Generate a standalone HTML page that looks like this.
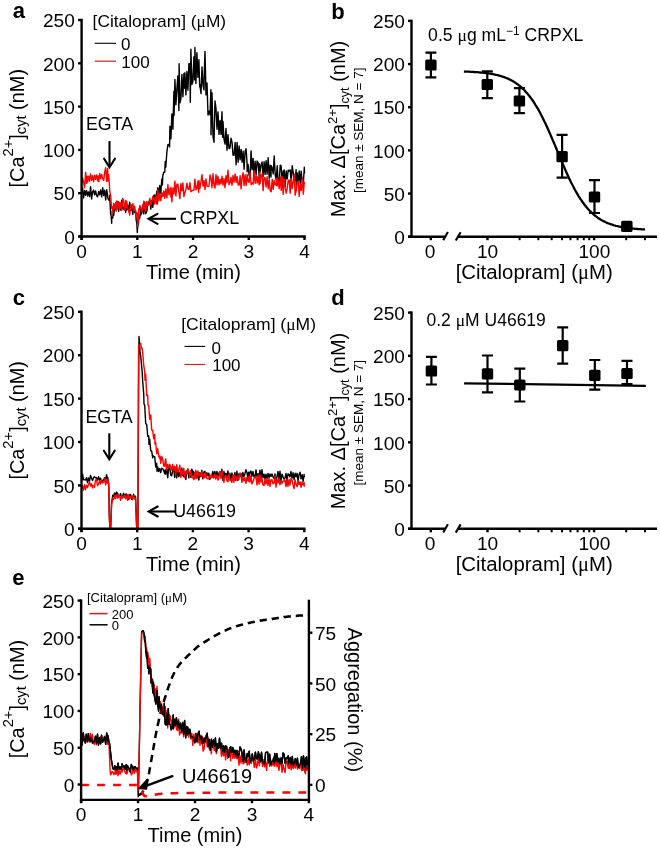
<!DOCTYPE html>
<html><head><meta charset="utf-8"><style>
html,body{margin:0;padding:0;background:#fff;}
svg{display:block;will-change:transform;}
text{font-family:"Liberation Sans",sans-serif;fill:#000;}
</style></head><body>
<svg width="660" height="849" viewBox="0 0 660 849">
<rect width="660" height="849" fill="#fff"/>
<text x="12.7" y="18.4" font-size="22" text-anchor="start" font-weight="bold" >a</text>
<polyline fill="none" stroke="#000" stroke-width="1.4" stroke-linejoin="round"  points="81.6,191.9 82.6,188.0 83.6,198.0 84.6,190.5 85.6,195.2 86.6,190.5 87.6,196.0 88.6,191.9 89.6,196.6 90.6,186.6 91.6,199.0 92.6,191.8 93.6,190.0 94.6,194.8 95.6,190.9 96.6,195.7 97.6,196.8 98.7,191.4 99.7,194.8 100.7,190.0 101.7,196.9 102.7,187.6 103.7,195.5 104.7,190.1 105.7,200.0 106.7,189.6 107.7,195.7 107.8,197.9 108.7,200.1 109.5,198.8 109.7,195.5 110.6,214.1 110.7,210.0 111.7,223.2 111.7,217.6 112.7,218.1 113.4,209.5 113.7,215.4 114.7,206.5 115.7,210.0 116.1,204.0 116.7,208.1 117.7,201.8 118.7,211.2 119.7,203.2 120.7,210.1 121.7,200.2 122.7,208.2 123.7,209.5 124.7,203.5 125.7,212.3 126.2,203.5 126.7,210.1 127.7,204.9 128.7,211.3 129.7,202.3 130.7,210.6 131.7,204.9 132.8,214.5 133.8,206.2 134.5,206.9 134.8,212.7 135.8,213.2 136.2,220.4 136.8,222.8 137.3,232.5 137.8,224.2 138.4,224.1 138.8,218.2 139.8,218.0 140.7,207.9 140.8,215.0 141.8,212.5 142.8,206.8 143.8,213.9 144.8,202.0 145.8,213.7 146.8,211.1 147.8,204.2 148.5,204.8 148.8,201.8 149.8,200.2 150.8,209.1 151.8,200.5 152.8,207.4 153.8,195.4 154.0,203.0 154.8,195.0 155.8,200.4 156.8,191.2 157.4,203.7 157.8,187.7 158.8,195.5 159.8,185.4 160.8,193.4 161.8,179.0 162.4,185.0 162.8,175.5 163.8,172.2 164.8,172.0 165.2,161.4 165.8,167.3 166.9,151.6 167.9,144.7 168.9,144.3 169.6,146.9 169.9,126.1 170.9,138.8 171.9,113.9 172.9,129.3 173.9,91.3 174.1,115.3 174.9,79.4 175.9,104.9 176.9,88.9 177.9,75.9 178.9,110.5 179.1,63.7 179.9,102.9 180.9,98.8 181.9,74.4 182.9,96.8 183.9,73.7 184.7,88.2 184.9,72.7 185.9,94.9 186.9,71.4 187.9,90.2 188.9,63.8 189.9,63.7 190.3,102.3 190.9,49.1 191.9,84.6 192.9,81.2 193.9,56.8 194.7,79.9 194.9,47.5 195.9,83.6 196.9,52.8 197.9,77.2 198.9,59.6 199.7,87.0 199.9,84.4 201.0,93.6 202.0,67.0 203.0,85.7 204.0,89.9 204.2,75.1 205.0,51.4 206.0,94.9 207.0,82.9 208.0,115.1 209.0,111.1 210.0,114.9 210.9,89.8 211.0,134.8 212.0,92.8 213.0,136.7 214.0,142.2 215.0,100.9 216.0,108.6 217.0,129.2 218.0,111.9 219.0,134.4 220.0,120.5 221.0,134.4 222.0,111.8 222.6,137.2 223.0,121.4 224.0,139.2 225.0,144.1 226.0,128.4 227.0,150.3 228.0,134.6 229.0,148.5 230.0,148.0 231.0,138.1 232.0,141.9 233.0,155.0 234.0,155.3 234.8,146.7 235.1,142.4 236.1,164.7 237.1,142.5 238.1,162.2 239.1,146.0 240.1,159.8 241.1,149.4 242.1,162.2 243.1,151.3 244.1,169.3 245.1,151.2 246.1,148.8 247.1,164.1 247.1,171.8 248.1,164.5 249.1,175.4 250.1,177.4 251.1,150.9 252.1,169.7 253.1,158.5 254.1,176.8 255.1,161.1 256.1,174.7 257.1,161.0 258.1,162.7 259.1,175.4 259.3,163.8 260.1,172.0 261.1,164.7 262.1,162.0 263.1,176.6 264.1,161.7 265.1,174.5 266.1,160.6 267.1,174.2 268.2,157.6 269.2,178.2 270.2,165.2 271.0,177.0 271.2,165.8 272.2,168.0 273.2,173.9 274.2,156.0 275.2,174.9 276.2,179.9 277.2,165.8 278.2,182.8 279.2,183.2 280.2,165.1 281.2,166.0 282.2,184.5 283.2,170.9 283.3,181.5 284.2,169.9 285.2,186.4 286.2,171.0 287.2,178.8 288.2,170.1 289.2,171.1 290.2,169.9 291.2,182.1 292.2,165.7 293.2,172.7 294.2,179.4 295.2,180.4 296.1,169.6 296.2,187.8 297.2,172.9 298.2,183.0 299.2,170.9 300.2,183.6 301.2,171.1 302.3,182.5 303.3,184.6 304.3,167.3 304.5,173.5"/>
<polyline fill="none" stroke="#f00" stroke-width="1.4" stroke-linejoin="round"  points="81.6,182.9 82.6,177.6 83.6,182.4 84.6,187.7 85.6,172.1 86.6,183.4 87.2,176.3 87.6,182.0 88.6,176.2 89.6,181.1 90.6,173.9 91.6,180.3 92.6,175.8 93.6,181.7 94.6,175.3 95.6,179.4 96.6,174.9 97.6,180.8 98.3,176.0 98.7,181.6 99.7,173.5 100.7,178.9 101.7,174.5 102.7,178.8 103.7,180.3 104.7,171.9 105.7,167.7 106.7,181.4 107.7,168.4 107.8,180.9 108.7,174.7 109.5,186.2 109.7,191.2 110.7,196.3 111.1,201.7 111.7,208.2 112.7,207.0 112.8,212.7 113.7,203.3 114.7,208.7 115.7,202.7 116.1,211.3 116.7,200.9 117.7,209.1 118.7,201.7 119.7,209.0 120.7,203.0 121.7,210.5 122.7,198.4 123.7,200.9 124.7,210.3 125.7,200.5 126.2,207.9 126.7,201.3 127.7,207.9 128.7,210.9 129.7,215.0 130.7,204.7 131.7,209.1 132.8,203.6 133.8,210.8 134.5,206.1 134.8,210.0 135.8,210.4 136.2,217.2 136.8,212.6 137.3,213.2 137.8,226.6 138.8,208.8 139.0,211.7 139.8,205.5 140.8,208.5 141.8,211.8 142.8,204.5 142.9,208.5 143.8,201.1 144.8,209.3 145.8,211.2 146.8,201.4 147.8,205.5 148.8,204.4 149.8,198.3 150.8,205.0 151.8,202.0 152.8,196.4 153.8,197.8 154.8,204.1 155.8,196.0 156.8,204.0 157.4,192.6 157.8,189.9 158.8,201.0 159.8,194.0 160.8,200.7 161.8,192.7 162.8,196.5 163.8,190.9 164.8,198.2 165.8,189.0 166.9,197.8 167.9,184.5 168.9,194.7 169.9,188.6 170.8,196.7 170.9,187.2 171.9,201.9 172.9,188.0 173.9,194.0 174.9,181.1 175.9,195.9 176.9,184.3 177.9,184.1 178.9,192.3 179.9,198.6 180.9,183.6 181.9,190.9 182.9,182.9 183.9,196.6 184.9,192.7 185.9,189.6 186.9,183.1 187.9,189.2 188.9,189.5 189.9,182.6 190.9,191.7 191.9,191.0 192.9,190.3 193.9,190.1 194.9,179.1 195.9,189.9 196.9,187.7 197.9,181.2 198.6,192.3 198.9,180.5 199.9,188.9 201.0,181.5 202.0,174.7 203.0,186.3 204.0,180.6 205.0,189.4 206.0,179.0 207.0,186.0 208.0,186.5 209.0,186.2 210.0,175.0 211.0,178.5 212.0,187.8 213.0,173.8 214.0,184.9 215.0,188.0 216.0,174.6 217.0,184.9 218.0,176.3 219.0,184.9 220.0,179.5 220.9,183.9 221.0,183.7 222.0,176.3 223.0,185.1 224.0,178.8 225.0,187.7 226.0,175.6 227.0,182.7 228.0,170.1 229.0,184.8 230.0,182.6 231.0,177.4 232.0,185.3 233.0,175.5 234.0,182.2 235.1,174.0 236.1,182.4 237.1,176.5 238.1,184.6 239.1,185.2 240.1,175.7 241.1,188.9 242.1,177.3 243.1,172.7 244.1,185.6 245.1,174.6 246.1,185.5 247.1,174.4 248.1,181.7 249.1,182.3 250.1,172.1 251.1,184.6 252.1,182.8 253.1,184.2 254.1,170.6 255.1,183.3 256.1,175.6 257.1,183.1 258.1,176.4 259.1,184.9 259.9,171.6 260.1,183.5 261.1,175.1 262.1,173.9 263.1,190.6 264.1,177.9 265.1,177.7 266.1,187.0 267.1,176.8 268.2,188.8 269.2,179.2 270.2,190.7 271.2,191.8 272.2,179.5 273.2,189.3 274.2,180.4 275.2,184.5 276.2,185.3 276.6,178.2 277.2,186.0 278.2,180.3 279.2,188.7 280.2,176.8 281.2,190.4 282.2,176.6 283.2,194.4 284.2,179.2 285.2,187.4 286.2,193.2 287.2,188.3 288.2,180.3 289.2,180.3 290.2,193.2 291.2,178.4 292.2,188.6 293.2,181.3 294.2,174.1 295.2,195.2 296.2,190.6 297.2,181.9 298.2,181.2 299.2,196.4 300.2,183.7 301.2,190.5 302.3,179.2 303.3,194.1 304.3,182.5 304.5,184.3"/>
<line x1="81.6" y1="18.8" x2="81.6" y2="239.8" stroke="#000" stroke-width="2.4" stroke-linecap="butt"/>
<line x1="78.1" y1="20.0" x2="81.6" y2="20.0" stroke="#000" stroke-width="2.4" stroke-linecap="butt"/>
<text x="74.8" y="27.2" font-size="19.1" text-anchor="end" font-weight="normal" >250</text>
<line x1="78.1" y1="63.3" x2="81.6" y2="63.3" stroke="#000" stroke-width="2.4" stroke-linecap="butt"/>
<text x="74.8" y="70.5" font-size="19.1" text-anchor="end" font-weight="normal" >200</text>
<line x1="78.1" y1="106.6" x2="81.6" y2="106.6" stroke="#000" stroke-width="2.4" stroke-linecap="butt"/>
<text x="74.8" y="113.8" font-size="19.1" text-anchor="end" font-weight="normal" >150</text>
<line x1="78.1" y1="149.89999999999998" x2="81.6" y2="149.89999999999998" stroke="#000" stroke-width="2.4" stroke-linecap="butt"/>
<text x="74.8" y="157.09999999999997" font-size="19.1" text-anchor="end" font-weight="normal" >100</text>
<line x1="78.1" y1="193.2" x2="81.6" y2="193.2" stroke="#000" stroke-width="2.4" stroke-linecap="butt"/>
<text x="74.8" y="200.39999999999998" font-size="19.1" text-anchor="end" font-weight="normal" >50</text>
<line x1="78.1" y1="236.5" x2="81.6" y2="236.5" stroke="#000" stroke-width="2.4" stroke-linecap="butt"/>
<text x="74.8" y="243.7" font-size="19.1" text-anchor="end" font-weight="normal" >0</text>
<line x1="78.1" y1="236.5" x2="305.7" y2="236.5" stroke="#000" stroke-width="2.4" stroke-linecap="butt"/>
<line x1="81.6" y1="236.5" x2="81.6" y2="240.0" stroke="#000" stroke-width="2.4" stroke-linecap="butt"/>
<text x="81.6" y="257.8" font-size="19.1" text-anchor="middle" font-weight="normal" >0</text>
<line x1="137.325" y1="236.5" x2="137.325" y2="240.0" stroke="#000" stroke-width="2.4" stroke-linecap="butt"/>
<text x="137.325" y="257.8" font-size="19.1" text-anchor="middle" font-weight="normal" >1</text>
<line x1="193.05" y1="236.5" x2="193.05" y2="240.0" stroke="#000" stroke-width="2.4" stroke-linecap="butt"/>
<text x="193.05" y="257.8" font-size="19.1" text-anchor="middle" font-weight="normal" >2</text>
<line x1="248.775" y1="236.5" x2="248.775" y2="240.0" stroke="#000" stroke-width="2.4" stroke-linecap="butt"/>
<text x="248.775" y="257.8" font-size="19.1" text-anchor="middle" font-weight="normal" >3</text>
<line x1="304.5" y1="236.5" x2="304.5" y2="240.0" stroke="#000" stroke-width="2.4" stroke-linecap="butt"/>
<text x="304.5" y="257.8" font-size="19.1" text-anchor="middle" font-weight="normal" >4</text>
<text transform="translate(23.8,187.5) rotate(-90)" font-size="19.9">[Ca<tspan font-size="14.725999999999999" dy="-11.3">2+</tspan><tspan dy="11.3">]</tspan><tspan font-size="14.725999999999999" dy="2.4">cyt</tspan><tspan dy="-2.4"> (nM)</tspan></text>
<text x="193.5" y="279.0" font-size="20" text-anchor="middle" font-weight="normal" >Time (min)</text>
<text x="92.6" y="27.2" font-size="17" text-anchor="start" font-weight="normal" textLength="133.5" lengthAdjust="spacingAndGlyphs">[Citalopram] (<tspan font-family="Liberation Serif">μ</tspan>M)</text>
<line x1="94.7" y1="43.3" x2="116" y2="43.3" stroke="#000" stroke-width="1.1" stroke-linecap="butt"/>
<text x="121" y="50.3" font-size="17" text-anchor="start" font-weight="normal" >0</text>
<line x1="94.7" y1="61.2" x2="116" y2="61.2" stroke="#c0282c" stroke-width="1.2" stroke-linecap="butt"/>
<text x="121.3" y="68.3" font-size="17" text-anchor="start" font-weight="normal" >100</text>
<text x="86.0" y="130.4" font-size="17.8" text-anchor="start" font-weight="normal" >EGTA</text>
<path d="M109.5,141.1 L109.5,166.5" stroke="#000" stroke-width="2.1" fill="none"/>
<path d="M104.1,158.7 L109.5,167.2 L114.9,158.7" stroke="#000" stroke-width="2.1" fill="none" stroke-linejoin="miter" stroke-linecap="round"/>
<path d="M176,218.8 L149,218.8" stroke="#000" stroke-width="2.1" fill="none"/>
<path d="M157.5,213.8 L148.5,218.8 L157.5,223.8" stroke="#000" stroke-width="2.1" fill="none" stroke-linecap="round"/>
<text x="179.8" y="223.8" font-size="17.8" text-anchor="start" font-weight="normal" >CRPXL</text>
<text x="331.3" y="18.900000000000002" font-size="22" text-anchor="start" font-weight="bold" >b</text>
<line x1="411.5" y1="19.7" x2="411.5" y2="237.89999999999998" stroke="#000" stroke-width="2.4" stroke-linecap="butt"/>
<line x1="408.0" y1="20.9" x2="411.5" y2="20.9" stroke="#000" stroke-width="2.4" stroke-linecap="butt"/>
<text x="404.9" y="28.099999999999998" font-size="19.1" text-anchor="end" font-weight="normal" >250</text>
<line x1="408.0" y1="64.06" x2="411.5" y2="64.06" stroke="#000" stroke-width="2.4" stroke-linecap="butt"/>
<text x="404.9" y="71.26" font-size="19.1" text-anchor="end" font-weight="normal" >200</text>
<line x1="408.0" y1="107.22" x2="411.5" y2="107.22" stroke="#000" stroke-width="2.4" stroke-linecap="butt"/>
<text x="404.9" y="114.42" font-size="19.1" text-anchor="end" font-weight="normal" >150</text>
<line x1="408.0" y1="150.38" x2="411.5" y2="150.38" stroke="#000" stroke-width="2.4" stroke-linecap="butt"/>
<text x="404.9" y="157.57999999999998" font-size="19.1" text-anchor="end" font-weight="normal" >100</text>
<line x1="408.0" y1="193.54" x2="411.5" y2="193.54" stroke="#000" stroke-width="2.4" stroke-linecap="butt"/>
<text x="404.9" y="200.73999999999998" font-size="19.1" text-anchor="end" font-weight="normal" >50</text>
<line x1="408.0" y1="236.7" x2="411.5" y2="236.7" stroke="#000" stroke-width="2.4" stroke-linecap="butt"/>
<text x="404.9" y="243.89999999999998" font-size="19.1" text-anchor="end" font-weight="normal" >0</text>
<line x1="408.0" y1="236.7" x2="445" y2="236.7" stroke="#000" stroke-width="2.4" stroke-linecap="butt"/>
<line x1="458" y1="236.7" x2="657" y2="236.7" stroke="#000" stroke-width="2.4" stroke-linecap="butt"/>
<line x1="443.2" y1="240.29999999999998" x2="447.9" y2="232.1" stroke="#000" stroke-width="2.1" stroke-linecap="butt"/>
<line x1="455.8" y1="240.5" x2="460.6" y2="232.29999999999998" stroke="#000" stroke-width="2.1" stroke-linecap="butt"/>
<line x1="430.8" y1="236.7" x2="430.8" y2="240.2" stroke="#000" stroke-width="2.4" stroke-linecap="butt"/>
<line x1="487.5" y1="236.7" x2="487.5" y2="240.2" stroke="#000" stroke-width="2.4" stroke-linecap="butt"/>
<line x1="519.5897975377804" y1="236.7" x2="519.5897975377804" y2="240.2" stroke="#000" stroke-width="2.0" stroke-linecap="butt"/>
<line x1="538.361125753116" y1="236.7" x2="538.361125753116" y2="240.2" stroke="#000" stroke-width="2.0" stroke-linecap="butt"/>
<line x1="551.6795950755608" y1="236.7" x2="551.6795950755608" y2="240.2" stroke="#000" stroke-width="2.0" stroke-linecap="butt"/>
<line x1="562.0102024622196" y1="236.7" x2="562.0102024622196" y2="240.2" stroke="#000" stroke-width="2.0" stroke-linecap="butt"/>
<line x1="570.4509232908964" y1="236.7" x2="570.4509232908964" y2="240.2" stroke="#000" stroke-width="2.0" stroke-linecap="butt"/>
<line x1="577.5874510655198" y1="236.7" x2="577.5874510655198" y2="240.2" stroke="#000" stroke-width="2.0" stroke-linecap="butt"/>
<line x1="583.7693926133412" y1="236.7" x2="583.7693926133412" y2="240.2" stroke="#000" stroke-width="2.0" stroke-linecap="butt"/>
<line x1="589.222251506232" y1="236.7" x2="589.222251506232" y2="240.2" stroke="#000" stroke-width="2.0" stroke-linecap="butt"/>
<line x1="594.1" y1="236.7" x2="594.1" y2="240.2" stroke="#000" stroke-width="2.4" stroke-linecap="butt"/>
<line x1="626.1897975377804" y1="236.7" x2="626.1897975377804" y2="240.2" stroke="#000" stroke-width="2.0" stroke-linecap="butt"/>
<line x1="644.961125753116" y1="236.7" x2="644.961125753116" y2="240.2" stroke="#000" stroke-width="2.0" stroke-linecap="butt"/>
<text x="430.1" y="258.2" font-size="19.1" text-anchor="middle" font-weight="normal" >0</text>
<text x="487.5" y="258.2" font-size="19.1" text-anchor="middle" font-weight="normal" >10</text>
<text x="594.4" y="258.2" font-size="19.1" text-anchor="middle" font-weight="normal" >100</text>
<text x="534.2" y="279.3" font-size="20" text-anchor="middle" font-weight="normal" textLength="157" lengthAdjust="spacingAndGlyphs">[Citalopram] (<tspan font-family="Liberation Serif">μ</tspan>M)</text>
<polyline fill="none" stroke="#000" stroke-width="2.3" points="463.9,71.5 464.8,71.6 465.7,71.6 466.6,71.6 467.5,71.7 468.4,71.7 469.3,71.7 470.2,71.8 471.1,71.8 472.0,71.9 473.0,71.9 473.9,72.0 474.8,72.1 475.7,72.1 476.6,72.2 477.5,72.2 478.4,72.3 479.3,72.4 480.2,72.5 481.1,72.6 482.1,72.6 483.0,72.7 483.9,72.8 484.8,72.9 485.7,73.1 486.6,73.2 487.5,73.3 488.4,73.4 489.3,73.6 490.2,73.7 491.2,73.9 492.1,74.0 493.0,74.2 493.9,74.4 494.8,74.6 495.7,74.8 496.6,75.0 497.5,75.2 498.4,75.4 499.3,75.7 500.3,75.9 501.2,76.2 502.1,76.5 503.0,76.8 503.9,77.1 504.8,77.4 505.7,77.8 506.6,78.1 507.5,78.5 508.4,78.9 509.4,79.4 510.3,79.8 511.2,80.3 512.1,80.8 513.0,81.3 513.9,81.8 514.8,82.4 515.7,83.0 516.6,83.6 517.5,84.3 518.5,85.0 519.4,85.7 520.3,86.4 521.2,87.2 522.1,88.0 523.0,88.9 523.9,89.8 524.8,90.7 525.7,91.7 526.6,92.7 527.6,93.8 528.5,94.9 529.4,96.0 530.3,97.2 531.2,98.4 532.1,99.7 533.0,101.0 533.9,102.4 534.8,103.8 535.7,105.3 536.7,106.8 537.6,108.3 538.5,109.9 539.4,111.5 540.3,113.2 541.2,115.0 542.1,116.7 543.0,118.6 543.9,120.4 544.8,122.3 545.8,124.2 546.7,126.2 547.6,128.2 548.5,130.2 549.4,132.3 550.3,134.4 551.2,136.5 552.1,138.6 553.0,140.8 554.0,143.0 554.9,145.1 555.8,147.3 556.7,149.5 557.6,151.7 558.5,153.9 559.4,156.1 560.3,158.3 561.2,160.4 562.1,162.6 563.1,164.7 564.0,166.8 564.9,168.9 565.8,171.0 566.7,173.0 567.6,175.0 568.5,177.0 569.4,178.9 570.3,180.8 571.2,182.7 572.2,184.5 573.1,186.2 574.0,188.0 574.9,189.7 575.8,191.3 576.7,192.9 577.6,194.4 578.5,196.0 579.4,197.4 580.3,198.8 581.3,200.2 582.2,201.5 583.1,202.8 584.0,204.0 584.9,205.2 585.8,206.3 586.7,207.4 587.6,208.5 588.5,209.5 589.4,210.5 590.4,211.4 591.3,212.3 592.2,213.1 593.1,214.0 594.0,214.8 594.9,215.5 595.8,216.2 596.7,216.9 597.6,217.6 598.5,218.2 599.5,218.8 600.4,219.4 601.3,219.9 602.2,220.4 603.1,220.9 604.0,221.4 604.9,221.8 605.8,222.3 606.7,222.7 607.6,223.1 608.6,223.4 609.5,223.8 610.4,224.1 611.3,224.4 612.2,224.7 613.1,225.0 614.0,225.3 614.9,225.5 615.8,225.8 616.7,226.0 617.7,226.2 618.6,226.4 619.5,226.6 620.4,226.8 621.3,227.0 622.2,227.2 623.1,227.3 624.0,227.5 624.9,227.6 625.8,227.8 626.8,227.9 627.7,228.0 628.6,228.1 629.5,228.2 630.4,228.4 631.3,228.5 632.2,228.5 633.1,228.6 634.0,228.7 635.0,228.8 635.9,228.9 636.8,228.9 637.7,229.0 638.6,229.1 639.5,229.1 640.4,229.2 641.3,229.3 642.2,229.3 643.1,229.4 644.1,229.4 645.0,229.4"/>
<path d="M430.9,52.7 L430.9,77.3 M425.4,52.7 L436.4,52.7 M425.4,77.3 L436.4,77.3" stroke="#000" stroke-width="2.2" fill="none"/>
<rect x="425.2" y="59.4" width="11.4" height="11.2" rx="1.5" fill="#000"/>
<path d="M487.3,71.3 L487.3,98.2 M481.8,71.3 L492.8,71.3 M481.8,98.2 L492.8,98.2" stroke="#000" stroke-width="2.2" fill="none"/>
<rect x="481.6" y="78.9" width="11.4" height="11.2" rx="1.5" fill="#000"/>
<path d="M519.4,88.2 L519.4,113.1 M513.9,88.2 L524.9,88.2 M513.9,113.1 L524.9,113.1" stroke="#000" stroke-width="2.2" fill="none"/>
<rect x="513.7" y="95.4" width="11.4" height="11.2" rx="1.5" fill="#000"/>
<path d="M562.1,134.8 L562.1,177.7 M556.6,134.8 L567.6,134.8 M556.6,177.7 L567.6,177.7" stroke="#000" stroke-width="2.2" fill="none"/>
<rect x="556.4" y="151.1" width="11.4" height="11.2" rx="1.5" fill="#000"/>
<path d="M594.5,180.2 L594.5,213 M589.0,180.2 L600.0,180.2 M589.0,213 L600.0,213" stroke="#000" stroke-width="2.2" fill="none"/>
<rect x="588.8" y="191.4" width="11.4" height="11.2" rx="1.5" fill="#000"/>
<path d="M626.8,226.4 L626.8,226.4 M621.3,226.4 L632.3,226.4 M621.3,226.4 L632.3,226.4" stroke="#000" stroke-width="2.2" fill="none"/>
<rect x="621.1" y="220.8" width="11.4" height="11.2" rx="1.5" fill="#000"/>
<text x="428.1" y="41.3" font-size="17.6">0.5 <tspan font-family="Liberation Serif">μ</tspan>g mL<tspan font-size="12" dy="-6.5">−1</tspan><tspan dy="6.5"> CRPXL</tspan></text>
<text transform="translate(345.0,217.3) rotate(-90)" font-size="20">Max. Δ[Ca<tspan font-size="13" dy="-7.6">2+</tspan><tspan dy="7.6">]</tspan><tspan font-size="12.6" dy="4.2">cyt</tspan><tspan dy="-4.2"> (nM)</tspan></text>
<text transform="translate(362.7,193.1) rotate(-90)" font-size="13.5">[mean ± SEM, N = 7]</text>
<text x="12.7" y="304.8" font-size="22" text-anchor="start" font-weight="bold" >c</text>
<polyline fill="none" stroke="#000" stroke-width="1.4" stroke-linejoin="round"  points="81.5,481.4 82.5,474.0 83.5,479.5 84.5,479.9 85.5,480.0 86.5,477.7 87.5,482.7 88.5,478.0 89.5,481.3 90.5,475.4 91.5,478.2 92.5,480.6 92.6,480.5 93.5,477.5 94.5,476.8 95.5,477.9 96.5,477.7 97.5,480.2 98.5,476.7 99.5,480.0 100.5,478.1 101.6,482.1 102.6,480.3 103.6,480.2 104.6,477.6 105.6,480.1 106.6,474.7 107.6,479.6 107.7,477.4 108.6,483.3 108.8,485.7 109.3,515.6 109.6,522.4 109.9,526.8 110.6,527.0 110.7,527.3 111.6,502.2 111.6,503.1 112.6,496.3 112.7,495.3 113.6,496.2 114.6,493.0 115.6,495.6 116.6,491.9 117.6,494.7 117.7,493.4 118.6,496.9 119.6,496.0 120.6,493.6 121.6,497.1 122.6,495.9 123.6,493.2 124.6,497.1 125.6,494.2 126.1,496.8 126.6,494.0 127.6,496.9 128.6,499.5 129.6,494.4 130.6,494.7 131.6,499.3 132.6,496.9 133.6,494.2 134.6,498.3 135.5,496.2 135.6,497.9 136.4,519.9 136.6,525.7 136.9,528.5 137.6,527.7 137.9,528.1 138.4,424.4 138.6,380.2 139.0,336.5 139.7,344.6 140.0,352.2 140.7,355.9 141.7,366.8 142.0,369.2 142.7,381.4 143.7,393.8 144.0,403.9 144.7,405.2 145.7,423.4 146.0,424.0 146.7,424.3 147.7,436.2 148.7,435.7 149.0,444.4 149.7,439.3 150.7,450.6 151.7,451.2 152.7,457.8 153.0,455.6 153.7,456.5 154.7,456.7 155.7,467.0 156.7,463.2 157.0,471.3 157.7,467.0 158.7,471.5 159.7,468.4 160.7,472.6 161.7,468.2 162.7,468.6 163.7,470.7 164.7,473.7 165.1,469.9 165.7,474.1 166.7,466.7 167.7,477.7 168.7,467.8 169.7,467.1 170.7,474.9 171.7,475.7 172.7,470.8 173.7,467.4 174.7,477.4 175.7,469.6 176.7,477.9 177.7,470.0 178.8,476.7 179.8,472.5 180.8,476.4 181.8,468.0 182.8,475.3 183.8,476.8 184.8,472.5 185.8,479.5 186.8,471.0 187.8,469.4 188.8,477.8 189.8,472.5 190.8,477.2 191.8,469.2 192.8,471.4 192.9,475.9 193.8,472.0 194.8,476.4 195.8,471.4 196.8,477.6 197.8,472.0 198.8,480.0 199.8,472.6 200.8,476.7 201.8,470.3 202.8,478.8 203.8,472.0 204.8,471.2 205.8,475.4 206.8,472.6 207.8,475.7 208.8,473.1 209.8,479.4 210.8,476.7 211.8,475.8 212.8,471.5 213.8,476.8 214.8,471.4 215.8,476.4 216.9,471.4 217.9,476.6 218.9,473.2 219.9,471.5 220.9,477.3 221.9,469.3 222.9,480.4 223.9,471.5 224.9,476.9 225.9,473.3 226.9,477.9 227.9,470.9 228.9,478.4 229.9,473.3 230.9,479.9 231.9,473.0 232.9,476.1 233.9,477.8 234.9,472.4 235.9,480.5 236.9,471.2 237.9,480.5 238.9,473.8 239.9,476.8 240.9,473.4 241.9,477.8 242.9,472.4 243.9,476.9 244.9,473.9 245.9,469.8 246.9,472.3 247.9,478.7 248.6,472.3 248.9,478.4 249.9,472.2 250.9,471.0 251.9,476.4 252.9,471.4 253.9,476.5 254.9,477.7 256.0,469.9 257.0,476.8 258.0,473.6 259.0,476.8 260.0,470.1 261.0,478.1 262.0,469.7 263.0,477.9 264.0,474.2 265.0,479.1 266.0,474.1 267.0,478.4 268.0,473.4 269.0,477.7 270.0,473.9 271.0,476.4 272.0,474.0 273.0,476.8 274.0,478.5 275.0,473.9 276.0,481.1 277.0,476.8 278.0,471.4 279.0,479.3 280.0,471.3 281.0,481.1 282.0,474.1 283.0,476.8 284.0,479.2 285.0,477.9 286.0,473.4 287.0,481.1 288.0,473.9 289.0,474.3 290.0,476.9 291.0,471.5 292.0,478.2 293.0,472.8 294.1,479.6 295.1,473.1 296.1,476.9 297.1,473.3 298.1,481.2 299.1,474.3 300.1,472.2 301.1,478.8 302.1,474.7 303.1,481.5 304.1,474.4 304.3,477.2"/>
<polyline fill="none" stroke="#f00" stroke-width="1.4" stroke-linejoin="round"  points="81.5,488.9 82.5,485.9 83.5,490.2 84.5,484.6 85.5,489.7 86.5,485.3 87.5,487.5 88.5,484.6 89.5,481.8 90.5,486.1 91.5,483.7 92.5,487.9 92.6,485.7 93.5,485.9 94.5,487.3 95.5,479.9 96.5,479.6 97.5,485.7 98.5,484.1 99.5,480.4 100.5,484.0 101.6,480.2 102.6,483.0 103.6,482.4 104.6,478.1 105.6,485.0 106.6,480.4 107.6,483.3 107.7,479.1 108.6,483.3 108.8,485.6 109.3,515.6 109.6,522.1 109.9,528.3 110.6,528.1 110.7,527.6 111.6,504.8 111.6,504.8 112.6,498.3 112.7,498.6 113.6,499.6 114.6,495.3 115.6,498.7 116.6,495.2 117.6,494.8 117.7,498.2 118.6,495.7 119.6,496.0 120.6,500.3 121.6,495.6 122.6,498.2 123.6,495.9 124.6,495.3 125.6,498.7 126.1,496.9 126.6,495.8 127.6,500.3 128.6,495.0 129.6,498.9 130.6,496.9 131.6,495.9 132.6,499.6 133.6,495.8 134.6,499.1 135.5,498.3 135.6,499.4 136.4,519.8 136.6,526.2 136.9,528.5 137.6,529.2 137.9,528.3 138.2,442.1 138.6,346.2 138.6,346.9 139.7,344.5 140.7,343.4 141.0,345.9 141.7,348.3 142.0,348.0 142.7,352.7 143.7,364.9 144.7,371.4 145.0,380.2 145.7,374.3 146.7,395.6 147.7,395.1 148.0,405.1 148.7,405.4 149.7,419.2 150.7,415.0 151.0,418.9 151.7,430.0 152.7,430.2 153.7,438.9 154.7,434.4 155.0,444.0 155.7,442.5 156.7,453.7 157.7,448.6 158.7,456.0 159.7,458.5 160.0,456.0 160.7,463.3 161.7,456.6 162.7,459.1 163.7,466.1 164.7,466.2 165.1,461.0 165.7,458.9 166.7,470.1 167.7,464.4 168.7,468.1 169.7,464.3 170.7,466.6 171.7,470.1 172.7,464.4 173.7,470.7 174.7,466.1 175.1,467.5 175.7,475.7 176.7,464.7 177.7,472.1 178.8,469.7 179.8,465.2 180.8,477.4 181.8,470.3 182.8,474.6 183.8,468.2 184.8,477.9 185.8,471.2 186.8,474.1 187.8,468.7 188.8,471.4 189.8,476.3 190.8,470.8 191.8,477.6 192.8,477.0 193.8,479.7 194.8,472.4 195.1,478.6 195.8,470.3 196.8,478.5 197.8,470.9 198.8,475.8 199.8,473.7 200.8,476.1 201.8,471.8 202.8,476.8 203.8,474.1 204.8,477.9 205.8,472.5 206.8,478.5 207.8,478.8 208.8,478.8 209.8,474.5 210.8,477.9 211.8,475.1 212.8,477.5 213.8,478.0 214.8,474.1 215.8,479.1 216.9,475.1 217.9,480.1 218.9,478.0 219.9,471.4 220.9,478.5 221.9,471.5 222.9,475.1 223.9,482.4 224.9,476.4 225.9,475.4 226.9,480.7 227.9,481.9 228.9,474.2 229.9,480.4 230.9,479.9 231.9,482.5 232.9,475.0 233.9,482.2 234.9,475.3 235.9,476.9 236.9,479.6 237.9,475.6 238.9,479.6 239.9,473.0 240.9,473.8 241.9,482.3 242.9,477.6 243.9,480.8 244.9,477.5 245.9,483.3 246.9,477.4 247.9,480.8 248.6,481.2 248.9,476.1 249.9,482.1 250.9,475.8 251.9,483.9 252.9,481.9 253.9,478.7 254.9,476.7 256.0,477.2 257.0,485.0 258.0,475.1 259.0,484.1 260.0,474.7 261.0,482.2 262.0,478.5 263.0,484.9 264.0,485.4 265.0,479.3 266.0,484.0 267.0,478.7 268.0,485.3 269.0,478.1 270.0,486.5 271.0,479.9 272.0,479.7 273.0,483.9 274.0,483.2 275.0,476.0 276.0,487.1 277.0,479.3 278.0,483.1 279.0,477.9 280.0,484.8 281.0,481.0 282.0,483.3 283.0,481.0 284.0,481.2 285.0,480.1 286.0,486.7 287.0,478.9 288.0,486.3 289.0,479.5 290.0,485.0 291.0,478.5 292.0,480.1 293.0,484.5 294.1,488.5 295.1,479.9 296.1,484.1 297.1,486.8 298.1,480.5 299.1,484.5 300.1,482.0 301.1,487.4 302.1,482.2 303.1,484.9 304.1,482.5 304.3,486.7"/>
<line x1="81.5" y1="310.6" x2="81.5" y2="532.0" stroke="#000" stroke-width="2.4" stroke-linecap="butt"/>
<line x1="78.0" y1="311.8" x2="81.5" y2="311.8" stroke="#000" stroke-width="2.4" stroke-linecap="butt"/>
<text x="74.7" y="319.0" font-size="19.1" text-anchor="end" font-weight="normal" >250</text>
<line x1="78.0" y1="355.2" x2="81.5" y2="355.2" stroke="#000" stroke-width="2.4" stroke-linecap="butt"/>
<text x="74.7" y="362.4" font-size="19.1" text-anchor="end" font-weight="normal" >200</text>
<line x1="78.0" y1="398.6" x2="81.5" y2="398.6" stroke="#000" stroke-width="2.4" stroke-linecap="butt"/>
<text x="74.7" y="405.8" font-size="19.1" text-anchor="end" font-weight="normal" >150</text>
<line x1="78.0" y1="442.0" x2="81.5" y2="442.0" stroke="#000" stroke-width="2.4" stroke-linecap="butt"/>
<text x="74.7" y="449.2" font-size="19.1" text-anchor="end" font-weight="normal" >100</text>
<line x1="78.0" y1="485.4" x2="81.5" y2="485.4" stroke="#000" stroke-width="2.4" stroke-linecap="butt"/>
<text x="74.7" y="492.59999999999997" font-size="19.1" text-anchor="end" font-weight="normal" >50</text>
<line x1="78.0" y1="528.8" x2="81.5" y2="528.8" stroke="#000" stroke-width="2.4" stroke-linecap="butt"/>
<text x="74.7" y="536.0" font-size="19.1" text-anchor="end" font-weight="normal" >0</text>
<line x1="78.0" y1="528.8" x2="305.5" y2="528.8" stroke="#000" stroke-width="2.4" stroke-linecap="butt"/>
<line x1="81.5" y1="528.8" x2="81.5" y2="532.3" stroke="#000" stroke-width="2.4" stroke-linecap="butt"/>
<text x="81.5" y="550.0" font-size="19.1" text-anchor="middle" font-weight="normal" >0</text>
<line x1="137.2" y1="528.8" x2="137.2" y2="532.3" stroke="#000" stroke-width="2.4" stroke-linecap="butt"/>
<text x="137.2" y="550.0" font-size="19.1" text-anchor="middle" font-weight="normal" >1</text>
<line x1="192.9" y1="528.8" x2="192.9" y2="532.3" stroke="#000" stroke-width="2.4" stroke-linecap="butt"/>
<text x="192.9" y="550.0" font-size="19.1" text-anchor="middle" font-weight="normal" >2</text>
<line x1="248.60000000000002" y1="528.8" x2="248.60000000000002" y2="532.3" stroke="#000" stroke-width="2.4" stroke-linecap="butt"/>
<text x="248.60000000000002" y="550.0" font-size="19.1" text-anchor="middle" font-weight="normal" >3</text>
<line x1="304.3" y1="528.8" x2="304.3" y2="532.3" stroke="#000" stroke-width="2.4" stroke-linecap="butt"/>
<text x="304.3" y="550.0" font-size="19.1" text-anchor="middle" font-weight="normal" >4</text>
<text transform="translate(23.8,479.6) rotate(-90)" font-size="19.9">[Ca<tspan font-size="14.725999999999999" dy="-11.3">2+</tspan><tspan dy="11.3">]</tspan><tspan font-size="14.725999999999999" dy="2.4">cyt</tspan><tspan dy="-2.4"> (nM)</tspan></text>
<text x="193.5" y="571.2" font-size="20" text-anchor="middle" font-weight="normal" >Time (min)</text>
<text x="181.2" y="330.0" font-size="17" text-anchor="start" font-weight="normal" textLength="134.8" lengthAdjust="spacingAndGlyphs">[Citalopram] (<tspan font-family="Liberation Serif">μ</tspan>M)</text>
<line x1="184.5" y1="346.4" x2="205.2" y2="346.4" stroke="#000" stroke-width="1.1" stroke-linecap="butt"/>
<text x="211.6" y="353.6" font-size="17" text-anchor="start" font-weight="normal" >0</text>
<line x1="184.5" y1="364.5" x2="205.2" y2="364.5" stroke="#c0282c" stroke-width="1.2" stroke-linecap="butt"/>
<text x="212.2" y="370.6" font-size="17" text-anchor="start" font-weight="normal" >100</text>
<text x="85.5" y="422.8" font-size="17.8" text-anchor="start" font-weight="normal" >EGTA</text>
<path d="M109.3,433.3 L109.3,458.5" stroke="#000" stroke-width="2.1" fill="none"/>
<path d="M103.89999999999999,450.7 L109.3,459.2 L114.7,450.7" stroke="#000" stroke-width="2.1" fill="none" stroke-linejoin="miter" stroke-linecap="round"/>
<path d="M175.5,511.5 L149.2,511.5" stroke="#000" stroke-width="2.1" fill="none"/>
<path d="M157.7,506.5 L148.7,511.5 L157.7,516.5" stroke="#000" stroke-width="2.1" fill="none" stroke-linecap="round"/>
<text x="173.2" y="517.3" font-size="17.9" text-anchor="start" font-weight="normal" >U46619</text>
<text x="331.3" y="305.3" font-size="22" text-anchor="start" font-weight="bold" >d</text>
<line x1="411.5" y1="311.40000000000003" x2="411.5" y2="530.0" stroke="#000" stroke-width="2.4" stroke-linecap="butt"/>
<line x1="408.0" y1="312.6" x2="411.5" y2="312.6" stroke="#000" stroke-width="2.4" stroke-linecap="butt"/>
<text x="404.9" y="319.8" font-size="19.1" text-anchor="end" font-weight="normal" >250</text>
<line x1="408.0" y1="355.84000000000003" x2="411.5" y2="355.84000000000003" stroke="#000" stroke-width="2.4" stroke-linecap="butt"/>
<text x="404.9" y="363.04" font-size="19.1" text-anchor="end" font-weight="normal" >200</text>
<line x1="408.0" y1="399.08" x2="411.5" y2="399.08" stroke="#000" stroke-width="2.4" stroke-linecap="butt"/>
<text x="404.9" y="406.28" font-size="19.1" text-anchor="end" font-weight="normal" >150</text>
<line x1="408.0" y1="442.32" x2="411.5" y2="442.32" stroke="#000" stroke-width="2.4" stroke-linecap="butt"/>
<text x="404.9" y="449.52" font-size="19.1" text-anchor="end" font-weight="normal" >100</text>
<line x1="408.0" y1="485.55999999999995" x2="411.5" y2="485.55999999999995" stroke="#000" stroke-width="2.4" stroke-linecap="butt"/>
<text x="404.9" y="492.75999999999993" font-size="19.1" text-anchor="end" font-weight="normal" >50</text>
<line x1="408.0" y1="528.8" x2="411.5" y2="528.8" stroke="#000" stroke-width="2.4" stroke-linecap="butt"/>
<text x="404.9" y="536.0" font-size="19.1" text-anchor="end" font-weight="normal" >0</text>
<line x1="408.0" y1="528.8" x2="445" y2="528.8" stroke="#000" stroke-width="2.4" stroke-linecap="butt"/>
<line x1="458" y1="528.8" x2="657" y2="528.8" stroke="#000" stroke-width="2.4" stroke-linecap="butt"/>
<line x1="443.2" y1="532.4" x2="447.9" y2="524.1999999999999" stroke="#000" stroke-width="2.1" stroke-linecap="butt"/>
<line x1="455.8" y1="532.5999999999999" x2="460.6" y2="524.4" stroke="#000" stroke-width="2.1" stroke-linecap="butt"/>
<line x1="430.8" y1="528.8" x2="430.8" y2="532.3" stroke="#000" stroke-width="2.4" stroke-linecap="butt"/>
<line x1="487.5" y1="528.8" x2="487.5" y2="532.3" stroke="#000" stroke-width="2.4" stroke-linecap="butt"/>
<line x1="519.5897975377804" y1="528.8" x2="519.5897975377804" y2="532.3" stroke="#000" stroke-width="2.0" stroke-linecap="butt"/>
<line x1="538.361125753116" y1="528.8" x2="538.361125753116" y2="532.3" stroke="#000" stroke-width="2.0" stroke-linecap="butt"/>
<line x1="551.6795950755608" y1="528.8" x2="551.6795950755608" y2="532.3" stroke="#000" stroke-width="2.0" stroke-linecap="butt"/>
<line x1="562.0102024622196" y1="528.8" x2="562.0102024622196" y2="532.3" stroke="#000" stroke-width="2.0" stroke-linecap="butt"/>
<line x1="570.4509232908964" y1="528.8" x2="570.4509232908964" y2="532.3" stroke="#000" stroke-width="2.0" stroke-linecap="butt"/>
<line x1="577.5874510655198" y1="528.8" x2="577.5874510655198" y2="532.3" stroke="#000" stroke-width="2.0" stroke-linecap="butt"/>
<line x1="583.7693926133412" y1="528.8" x2="583.7693926133412" y2="532.3" stroke="#000" stroke-width="2.0" stroke-linecap="butt"/>
<line x1="589.222251506232" y1="528.8" x2="589.222251506232" y2="532.3" stroke="#000" stroke-width="2.0" stroke-linecap="butt"/>
<line x1="594.1" y1="528.8" x2="594.1" y2="532.3" stroke="#000" stroke-width="2.4" stroke-linecap="butt"/>
<line x1="626.1897975377804" y1="528.8" x2="626.1897975377804" y2="532.3" stroke="#000" stroke-width="2.0" stroke-linecap="butt"/>
<line x1="644.961125753116" y1="528.8" x2="644.961125753116" y2="532.3" stroke="#000" stroke-width="2.0" stroke-linecap="butt"/>
<text x="430.1" y="550.3" font-size="19.1" text-anchor="middle" font-weight="normal" >0</text>
<text x="487.5" y="550.3" font-size="19.1" text-anchor="middle" font-weight="normal" >10</text>
<text x="594.4" y="550.3" font-size="19.1" text-anchor="middle" font-weight="normal" >100</text>
<text x="534.2" y="571.4" font-size="20" text-anchor="middle" font-weight="normal" textLength="157" lengthAdjust="spacingAndGlyphs">[Citalopram] (<tspan font-family="Liberation Serif">μ</tspan>M)</text>
<path d="M464.1,383.3 L645.8,385.8" stroke="#000" stroke-width="2.3" fill="none"/>
<path d="M431.4,356.9 L431.4,384.5 M425.9,356.9 L436.9,356.9 M425.9,384.5 L436.9,384.5" stroke="#000" stroke-width="2.2" fill="none"/>
<rect x="425.7" y="365.4" width="11.4" height="11.2" rx="1.5" fill="#000"/>
<path d="M487.5,355.5 L487.5,392.4 M482.0,355.5 L493.0,355.5 M482.0,392.4 L493.0,392.4" stroke="#000" stroke-width="2.2" fill="none"/>
<rect x="481.8" y="368.2" width="11.4" height="11.2" rx="1.5" fill="#000"/>
<path d="M519.8,368.7 L519.8,401.5 M514.3,368.7 L525.3,368.7 M514.3,401.5 L525.3,401.5" stroke="#000" stroke-width="2.2" fill="none"/>
<rect x="514.1" y="379.4" width="11.4" height="11.2" rx="1.5" fill="#000"/>
<path d="M562.7,327.3 L562.7,363.6 M557.2,327.3 L568.2,327.3 M557.2,363.6 L568.2,363.6" stroke="#000" stroke-width="2.2" fill="none"/>
<rect x="557.0" y="340.0" width="11.4" height="11.2" rx="1.5" fill="#000"/>
<path d="M594.8,360 L594.8,389.6 M589.3,360 L600.3,360 M589.3,389.6 L600.3,389.6" stroke="#000" stroke-width="2.2" fill="none"/>
<rect x="589.1" y="369.7" width="11.4" height="11.2" rx="1.5" fill="#000"/>
<path d="M627,360.9 L627,384 M621.5,360.9 L632.5,360.9 M621.5,384 L632.5,384" stroke="#000" stroke-width="2.2" fill="none"/>
<rect x="621.3" y="367.9" width="11.4" height="11.2" rx="1.5" fill="#000"/>
<text x="426.5" y="326.2" font-size="17.5">0.2 <tspan font-family="Liberation Serif">μ</tspan>M U46619</text>
<text transform="translate(345.0,509.3) rotate(-90)" font-size="20">Max. Δ[Ca<tspan font-size="13" dy="-7.6">2+</tspan><tspan dy="7.6">]</tspan><tspan font-size="12.6" dy="4.2">cyt</tspan><tspan dy="-4.2"> (nM)</tspan></text>
<text transform="translate(362.7,485.5) rotate(-90)" font-size="13.5">[mean ± SEM, N = 7]</text>
<text x="12.3" y="585.2" font-size="22" text-anchor="start" font-weight="bold" >e</text>
<polyline fill="none" stroke="#000" stroke-width="2.5" stroke-dasharray="7.3 5"  points="138.1,795.0 138.3,795.0 138.6,795.0 138.9,794.9 139.2,794.8 139.5,794.7 139.8,794.6 140.0,794.5 140.3,794.3 140.6,794.2 140.9,794.0 141.2,793.8 141.5,793.6 141.8,793.2 142.0,792.8 142.3,792.4 142.6,791.9 142.9,791.5 143.2,791.0 143.5,790.5 143.7,790.0 144.0,789.5 144.3,789.0 144.6,788.5 144.9,787.9 145.2,787.4 145.5,786.8 145.7,786.1 146.0,785.4 146.3,784.7 146.6,783.9 146.9,783.0 147.2,781.9 147.4,780.7 147.7,779.4 148.0,778.1 148.3,776.6 148.6,775.1 148.9,773.7 149.2,772.2 149.4,770.7 149.7,769.2 150.0,767.7 150.3,766.2 150.6,764.6 150.9,763.0 151.1,761.3 151.4,759.7 151.7,758.0 152.0,756.4 152.3,754.7 152.6,753.1 152.9,751.5 153.1,749.9 153.4,748.2 153.7,746.5 154.0,744.9 154.3,743.2 154.6,741.5 154.9,739.9 155.1,738.3 155.4,736.7 155.7,735.1 156.0,733.6 156.3,732.2 156.6,730.7 156.8,729.3 157.1,728.0 157.4,726.6 157.7,725.2 158.0,723.9 158.3,722.6 158.6,721.3 158.8,720.1 159.1,718.8 159.4,717.6 159.7,716.4 160.0,715.3 160.3,714.1 160.5,713.0 160.8,712.0 161.1,710.9 161.4,709.8 161.7,708.8 162.0,707.8 162.3,706.8 162.5,705.8 162.8,704.8 163.1,703.9 163.4,702.9 163.7,702.0 164.0,701.1 164.2,700.1 164.5,699.2 164.8,698.3 165.1,697.4 165.4,696.5 165.7,695.7 166.0,694.8 166.2,693.9 166.5,693.0 166.8,692.2 167.1,691.3 167.4,690.4 167.7,689.5 167.9,688.7 168.2,687.8 168.5,686.9 168.8,686.1 169.1,685.2 169.4,684.4 169.7,683.6 169.9,682.8 170.2,682.0 170.5,681.3 170.8,680.5 171.1,679.8 171.4,679.1 171.7,678.4 171.9,677.8 172.2,677.1 172.5,676.5 172.8,675.9 173.1,675.3 173.4,674.7 173.6,674.1 173.9,673.5 174.2,672.9 174.5,672.4 174.8,671.8 175.1,671.3 175.4,670.7 175.6,670.2 175.9,669.7 176.2,669.2 176.5,668.7 176.8,668.3 177.1,667.8 177.3,667.4 177.6,667.0 177.9,666.5 178.2,666.1 178.5,665.8 178.8,665.4 179.1,665.0 179.3,664.6 179.6,664.3 179.9,663.9 180.2,663.6 180.5,663.3 180.8,663.0 181.0,662.6 181.3,662.3 181.6,662.0 181.9,661.7 182.2,661.4 182.5,661.1 182.8,660.8 183.0,660.5 183.3,660.2 183.6,659.9 183.9,659.7 184.2,659.4 184.5,659.1 184.7,658.8 185.0,658.5 185.3,658.2 185.6,657.9 185.9,657.6 186.2,657.4 186.5,657.1 186.7,656.8 187.0,656.5 187.3,656.2 187.6,656.0 187.9,655.7 188.2,655.4 188.5,655.2 188.7,654.9 189.0,654.6 189.3,654.4 189.6,654.1 189.9,653.9 190.2,653.6 190.4,653.3 190.7,653.1 191.0,652.8 191.3,652.6 191.6,652.3 191.9,652.0 192.2,651.8 192.4,651.5 192.7,651.2 193.0,651.0 193.3,650.7 193.6,650.4 193.9,650.2 194.1,649.9 194.4,649.6 194.7,649.4 195.0,649.1 195.3,648.8 195.6,648.5 195.9,648.3 196.1,648.0 196.4,647.8 196.7,647.5 197.0,647.3 197.3,647.0 197.6,646.8 197.8,646.5 198.1,646.3 198.4,646.1 198.7,645.9 199.0,645.7 199.3,645.5 199.6,645.3 199.8,645.1 200.1,644.9 200.4,644.7 200.7,644.5 201.0,644.3 201.3,644.1 201.5,643.9 201.8,643.7 202.1,643.5 202.4,643.4 202.7,643.2 203.0,643.0 203.3,642.8 203.5,642.7 203.8,642.5 204.1,642.3 204.4,642.1 204.7,642.0 205.0,641.8 205.3,641.6 205.5,641.4 205.8,641.3 206.1,641.1 206.4,640.9 206.7,640.7 207.0,640.6 207.2,640.4 207.5,640.2 207.8,640.0 208.1,639.8 208.4,639.7 208.7,639.5 209.0,639.3 209.2,639.1 209.5,639.0 209.8,638.8 210.1,638.6 210.4,638.4 210.7,638.3 210.9,638.1 211.2,637.9 211.5,637.7 211.8,637.6 212.1,637.4 212.4,637.2 212.7,637.1 212.9,636.9 213.2,636.7 213.5,636.6 213.8,636.4 214.1,636.2 214.4,636.1 214.6,635.9 214.9,635.8 215.2,635.6 215.5,635.4 215.8,635.3 216.1,635.1 216.4,635.0 216.6,634.8 216.9,634.7 217.2,634.5 217.5,634.4 217.8,634.2 218.1,634.1 218.3,633.9 218.6,633.8 218.9,633.6 219.2,633.5 219.5,633.3 219.8,633.2 220.1,633.0 220.3,632.9 220.6,632.8 220.9,632.6 221.2,632.5 221.5,632.3 221.8,632.2 222.1,632.0 222.3,631.9 222.6,631.7 222.9,631.6 223.2,631.5 223.5,631.3 223.8,631.2 224.0,631.1 224.3,630.9 224.6,630.8 224.9,630.7 225.2,630.5 225.5,630.4 225.8,630.3 226.0,630.1 226.3,630.0 226.6,629.9 226.9,629.7 227.2,629.6 227.5,629.5 227.7,629.4 228.0,629.3 228.3,629.1 228.6,629.0 228.9,628.9 229.2,628.8 229.5,628.7 229.7,628.6 230.0,628.5 230.3,628.3 230.6,628.2 230.9,628.1 231.2,628.0 231.4,627.9 231.7,627.8 232.0,627.7 232.3,627.6 232.6,627.5 232.9,627.4 233.2,627.3 233.4,627.2 233.7,627.1 234.0,627.0 234.3,627.0 234.6,626.9 234.9,626.8 235.1,626.7 235.4,626.6 235.7,626.5 236.0,626.4 236.3,626.3 236.6,626.2 236.9,626.1 237.1,626.1 237.4,626.0 237.7,625.9 238.0,625.8 238.3,625.7 238.6,625.6 238.9,625.6 239.1,625.5 239.4,625.4 239.7,625.3 240.0,625.2 240.3,625.1 240.6,625.1 240.8,625.0 241.1,624.9 241.4,624.8 241.7,624.8 242.0,624.7 242.3,624.6 242.6,624.5 242.8,624.5 243.1,624.4 243.4,624.3 243.7,624.2 244.0,624.2 244.3,624.1 244.5,624.0 244.8,623.9 245.1,623.9 245.4,623.8 245.7,623.7 246.0,623.7 246.3,623.6 246.5,623.5 246.8,623.5 247.1,623.4 247.4,623.3 247.7,623.3 248.0,623.2 248.2,623.1 248.5,623.1 248.8,623.0 249.1,622.9 249.4,622.9 249.7,622.8 250.0,622.7 250.2,622.7 250.5,622.6 250.8,622.5 251.1,622.5 251.4,622.4 251.7,622.3 251.9,622.3 252.2,622.2 252.5,622.2 252.8,622.1 253.1,622.0 253.4,622.0 253.7,621.9 253.9,621.9 254.2,621.8 254.5,621.8 254.8,621.7 255.1,621.6 255.4,621.6 255.7,621.5 255.9,621.5 256.2,621.4 256.5,621.4 256.8,621.3 257.1,621.3 257.4,621.2 257.6,621.1 257.9,621.1 258.2,621.0 258.5,621.0 258.8,620.9 259.1,620.9 259.4,620.8 259.6,620.8 259.9,620.7 260.2,620.7 260.5,620.6 260.8,620.6 261.1,620.5 261.3,620.5 261.6,620.4 261.9,620.4 262.2,620.4 262.5,620.3 262.8,620.3 263.1,620.2 263.3,620.2 263.6,620.1 263.9,620.1 264.2,620.0 264.5,620.0 264.8,620.0 265.0,619.9 265.3,619.9 265.6,619.8 265.9,619.8 266.2,619.7 266.5,619.7 266.8,619.7 267.0,619.6 267.3,619.6 267.6,619.5 267.9,619.5 268.2,619.5 268.5,619.4 268.8,619.4 269.0,619.3 269.3,619.3 269.6,619.3 269.9,619.2 270.2,619.2 270.5,619.1 270.7,619.1 271.0,619.1 271.3,619.0 271.6,619.0 271.9,618.9 272.2,618.9 272.5,618.9 272.7,618.8 273.0,618.8 273.3,618.7 273.6,618.7 273.9,618.6 274.2,618.6 274.4,618.6 274.7,618.5 275.0,618.5 275.3,618.4 275.6,618.4 275.9,618.3 276.2,618.3 276.4,618.3 276.7,618.2 277.0,618.2 277.3,618.1 277.6,618.1 277.9,618.0 278.1,618.0 278.4,618.0 278.7,617.9 279.0,617.9 279.3,617.8 279.6,617.8 279.9,617.7 280.1,617.7 280.4,617.6 280.7,617.6 281.0,617.6 281.3,617.5 281.6,617.5 281.8,617.4 282.1,617.4 282.4,617.3 282.7,617.3 283.0,617.3 283.3,617.2 283.6,617.2 283.8,617.1 284.1,617.1 284.4,617.1 284.7,617.0 285.0,617.0 285.3,617.0 285.6,616.9 285.8,616.9 286.1,616.8 286.4,616.8 286.7,616.8 287.0,616.7 287.3,616.7 287.5,616.7 287.8,616.6 288.1,616.6 288.4,616.6 288.7,616.5 289.0,616.5 289.3,616.5 289.5,616.5 289.8,616.4 290.1,616.4 290.4,616.4 290.7,616.3 291.0,616.3 291.2,616.3 291.5,616.3 291.8,616.2 292.1,616.2 292.4,616.2 292.7,616.2 293.0,616.1 293.2,616.1 293.5,616.1 293.8,616.0 294.1,616.0 294.4,616.0 294.7,616.0 294.9,615.9 295.2,615.9 295.5,615.9 295.8,615.9 296.1,615.9 296.4,615.8 296.7,615.8 296.9,615.8 297.2,615.8 297.5,615.7 297.8,615.7 298.1,615.7 298.4,615.7 298.6,615.6 298.9,615.6 299.2,615.6 299.5,615.6 299.8,615.6 300.1,615.5 300.4,615.5 300.6,615.5 300.9,615.5 301.2,615.5 301.5,615.4 301.8,615.4 302.1,615.4 302.4,615.4 302.6,615.4 302.9,615.3 303.2,615.3 303.5,615.3 303.8,615.3 304.1,615.3 304.3,615.2 304.6,615.2 304.9,615.2 305.2,615.2 305.5,615.2 305.8,615.1 306.1,615.1 306.3,615.1 306.6,615.1 306.9,615.1 307.2,615.1 307.5,615.0 307.8,615.0 308.0,615.0 308.3,615.0 308.6,615.0 308.9,615.0"/>
<polyline fill="none" stroke="#f00" stroke-width="2.5" stroke-dasharray="7.8 8.2"  points="81.1,784.9 81.4,784.9 81.7,784.9 82.0,784.9 82.2,784.9 82.5,784.9 82.8,784.9 83.1,784.9 83.4,784.9 83.7,784.9 83.9,784.9 84.2,784.9 84.5,784.9 84.8,784.9 85.1,784.9 85.4,784.9 85.7,784.9 85.9,784.9 86.2,784.9 86.5,784.9 86.8,784.9 87.1,784.9 87.4,784.9 87.6,784.9 87.9,784.9 88.2,784.9 88.5,784.9 88.8,784.9 89.1,784.9 89.4,784.9 89.6,784.9 89.9,784.9 90.2,784.9 90.5,784.9 90.8,784.9 91.1,784.9 91.4,784.9 91.6,784.9 91.9,784.9 92.2,784.9 92.5,784.9 92.8,784.9 93.1,784.9 93.3,784.9 93.6,784.9 93.9,784.9 94.2,784.9 94.5,784.9 94.8,784.9 95.1,784.9 95.3,784.9 95.6,784.9 95.9,784.9 96.2,784.9 96.5,784.9 96.8,784.9 97.0,784.9 97.3,784.9 97.6,784.9 97.9,784.9 98.2,784.9 98.5,784.9 98.8,784.9 99.0,784.9 99.3,784.9 99.6,784.9 99.9,784.9 100.2,784.9 100.5,784.9 100.7,784.9 101.0,784.9 101.3,784.9 101.6,784.9 101.9,784.9 102.2,784.9 102.5,784.9 102.7,784.9 103.0,784.9 103.3,784.9 103.6,784.9 103.9,784.9 104.2,784.9 104.4,784.9 104.7,784.9 105.0,784.9 105.3,784.9 105.6,784.9 105.9,784.9 106.2,784.9 106.4,784.9 106.7,784.9 107.0,784.9 107.3,784.9 107.6,784.9 107.9,784.9 108.2,784.9 108.4,784.9 108.7,784.9 109.0,784.9 109.3,784.9 109.6,784.9 109.9,784.9 110.1,784.9 110.4,784.9 110.7,784.9 111.0,784.9 111.3,784.9 111.6,784.9 111.9,784.9 112.1,784.9 112.4,784.9 112.7,784.9 113.0,784.9 113.3,784.9 113.6,784.9 113.8,784.9 114.1,784.9 114.4,784.9 114.7,784.9 115.0,784.9 115.3,784.9 115.6,784.9 115.8,784.9 116.1,784.9 116.4,784.9 116.7,784.9 117.0,784.9 117.3,784.9 117.5,784.9 117.8,784.9 118.1,784.9 118.4,784.9 118.7,784.9 119.0,784.9 119.3,784.9 119.5,784.9 119.8,784.9 120.1,784.9 120.4,784.9 120.7,784.9 121.0,784.9 121.2,784.9 121.5,784.9 121.8,784.9 122.1,784.9 122.4,784.9 122.7,784.9 123.0,784.9 123.2,784.9 123.5,784.9 123.8,784.9 124.1,784.9 124.4,784.9 124.7,784.9 125.0,784.9 125.2,784.9 125.5,784.9 125.8,784.9 126.1,784.9 126.4,784.9 126.7,784.9 126.9,784.9 127.2,784.9 127.5,784.9 127.8,784.9 128.1,784.9 128.4,784.9 128.7,784.9 128.9,784.9 129.2,784.9 129.5,784.9 129.8,784.9 130.1,784.9 130.4,784.9 130.6,784.9 130.9,784.9 131.2,784.9 131.5,784.9 131.8,784.9 132.1,784.9 132.4,784.9 132.6,784.9 132.9,784.9 133.2,784.9 133.5,784.9 133.8,784.9 134.1,784.9 134.3,784.9 134.6,784.9 134.9,784.9 135.2,784.9 135.5,784.9 135.8,784.9 136.1,784.9 136.3,784.9 136.6,784.9 136.9,784.9 137.2,785.0 137.5,785.2 137.8,785.6 138.1,785.9 138.3,786.3 138.6,786.7 138.9,787.1 139.2,787.6 139.5,788.1 139.8,788.7 140.0,789.2 140.3,789.7 140.6,790.1 140.9,790.6 141.2,791.0 141.5,791.4 141.8,791.9 142.0,792.4 142.3,792.9 142.6,793.3 142.9,793.8 143.2,794.2 143.5,794.6 143.7,795.0 144.0,795.4 144.3,795.7 144.6,795.9 144.9,796.1 145.2,796.2 145.5,796.3 145.7,796.3 146.0,796.2 146.3,796.2 146.6,796.2 146.9,796.2 147.2,796.1 147.4,796.1 147.7,796.0 148.0,796.0 148.3,795.9 148.6,795.8 148.9,795.8 149.2,795.7 149.4,795.6 149.7,795.6 150.0,795.5 150.3,795.4 150.6,795.4 150.9,795.3 151.1,795.2 151.4,795.2 151.7,795.1 152.0,795.1 152.3,795.0 152.6,795.0 152.9,795.0 153.1,794.9 153.4,794.9 153.7,794.8 154.0,794.8 154.3,794.8 154.6,794.7 154.9,794.7 155.1,794.6 155.4,794.6 155.7,794.5 156.0,794.5 156.3,794.5 156.6,794.4 156.8,794.4 157.1,794.3 157.4,794.3 157.7,794.3 158.0,794.2 158.3,794.2 158.6,794.1 158.8,794.1 159.1,794.1 159.4,794.0 159.7,794.0 160.0,794.0 160.3,793.9 160.5,793.9 160.8,793.9 161.1,793.8 161.4,793.8 161.7,793.8 162.0,793.7 162.3,793.7 162.5,793.7 162.8,793.6 163.1,793.6 163.4,793.6 163.7,793.6 164.0,793.6 164.2,793.5 164.5,793.5 164.8,793.5 165.1,793.5 165.4,793.5 165.7,793.5 166.0,793.4 166.2,793.4 166.5,793.4 166.8,793.4 167.1,793.4 167.4,793.4 167.7,793.4 167.9,793.4 168.2,793.4 168.5,793.4 168.8,793.4 169.1,793.3 169.4,793.3 169.7,793.3 169.9,793.3 170.2,793.3 170.5,793.3 170.8,793.3 171.1,793.3 171.4,793.3 171.7,793.3 171.9,793.3 172.2,793.3 172.5,793.3 172.8,793.2 173.1,793.2 173.4,793.2 173.6,793.2 173.9,793.2 174.2,793.2 174.5,793.2 174.8,793.2 175.1,793.2 175.4,793.2 175.6,793.2 175.9,793.2 176.2,793.2 176.5,793.2 176.8,793.1 177.1,793.1 177.3,793.1 177.6,793.1 177.9,793.1 178.2,793.1 178.5,793.1 178.8,793.1 179.1,793.1 179.3,793.1 179.6,793.1 179.9,793.1 180.2,793.1 180.5,793.1 180.8,793.1 181.0,793.1 181.3,793.1 181.6,793.0 181.9,793.0 182.2,793.0 182.5,793.0 182.8,793.0 183.0,793.0 183.3,793.0 183.6,793.0 183.9,793.0 184.2,793.0 184.5,793.0 184.7,793.0 185.0,793.0 185.3,793.0 185.6,793.0 185.9,793.0 186.2,793.0 186.5,793.0 186.7,793.0 187.0,792.9 187.3,792.9 187.6,792.9 187.9,792.9 188.2,792.9 188.5,792.9 188.7,792.9 189.0,792.9 189.3,792.9 189.6,792.9 189.9,792.9 190.2,792.9 190.4,792.9 190.7,792.9 191.0,792.9 191.3,792.9 191.6,792.9 191.9,792.9 192.2,792.9 192.4,792.9 192.7,792.9 193.0,792.9 193.3,792.9 193.6,792.8 193.9,792.8 194.1,792.8 194.4,792.8 194.7,792.8 195.0,792.8 195.3,792.8 195.6,792.8 195.9,792.8 196.1,792.8 196.4,792.8 196.7,792.8 197.0,792.8 197.3,792.8 197.6,792.8 197.8,792.8 198.1,792.8 198.4,792.8 198.7,792.8 199.0,792.8 199.3,792.8 199.6,792.8 199.8,792.8 200.1,792.8 200.4,792.8 200.7,792.8 201.0,792.8 201.3,792.8 201.5,792.8 201.8,792.8 202.1,792.7 202.4,792.7 202.7,792.7 203.0,792.7 203.3,792.7 203.5,792.7 203.8,792.7 204.1,792.7 204.4,792.7 204.7,792.7 205.0,792.7 205.3,792.7 205.5,792.7 205.8,792.7 206.1,792.7 206.4,792.7 206.7,792.7 207.0,792.7 207.2,792.7 207.5,792.7 207.8,792.7 208.1,792.7 208.4,792.7 208.7,792.7 209.0,792.7 209.2,792.7 209.5,792.7 209.8,792.7 210.1,792.7 210.4,792.7 210.7,792.7 210.9,792.7 211.2,792.7 211.5,792.7 211.8,792.7 212.1,792.7 212.4,792.7 212.7,792.7 212.9,792.7 213.2,792.7 213.5,792.7 213.8,792.7 214.1,792.7 214.4,792.7 214.6,792.7 214.9,792.6 215.2,792.6 215.5,792.6 215.8,792.6 216.1,792.6 216.4,792.6 216.6,792.6 216.9,792.6 217.2,792.6 217.5,792.6 217.8,792.6 218.1,792.6 218.3,792.6 218.6,792.6 218.9,792.6 219.2,792.6 219.5,792.6 219.8,792.6 220.1,792.6 220.3,792.6 220.6,792.6 220.9,792.6 221.2,792.6 221.5,792.6 221.8,792.6 222.1,792.6 222.3,792.6 222.6,792.6 222.9,792.6 223.2,792.6 223.5,792.6 223.8,792.6 224.0,792.6 224.3,792.6 224.6,792.6 224.9,792.6 225.2,792.6 225.5,792.6 225.8,792.6 226.0,792.6 226.3,792.6 226.6,792.6 226.9,792.6 227.2,792.6 227.5,792.6 227.7,792.6 228.0,792.6 228.3,792.6 228.6,792.6 228.9,792.6 229.2,792.6 229.5,792.6 229.7,792.6 230.0,792.6 230.3,792.6 230.6,792.6 230.9,792.6 231.2,792.6 231.4,792.6 231.7,792.6 232.0,792.6 232.3,792.6 232.6,792.6 232.9,792.6 233.2,792.6 233.4,792.6 233.7,792.6 234.0,792.6 234.3,792.6 234.6,792.6 234.9,792.6 235.1,792.6 235.4,792.6 235.7,792.6 236.0,792.6 236.3,792.6 236.6,792.6 236.9,792.6 237.1,792.6 237.4,792.6 237.7,792.5 238.0,792.5 238.3,792.5 238.6,792.5 238.9,792.5 239.1,792.5 239.4,792.5 239.7,792.5 240.0,792.5 240.3,792.5 240.6,792.5 240.8,792.5 241.1,792.5 241.4,792.5 241.7,792.5 242.0,792.5 242.3,792.5 242.6,792.5 242.8,792.5 243.1,792.5 243.4,792.5 243.7,792.5 244.0,792.5 244.3,792.5 244.5,792.5 244.8,792.5 245.1,792.5 245.4,792.5 245.7,792.5 246.0,792.5 246.3,792.5 246.5,792.5 246.8,792.5 247.1,792.5 247.4,792.5 247.7,792.5 248.0,792.5 248.2,792.5 248.5,792.5 248.8,792.5 249.1,792.5 249.4,792.5 249.7,792.5 250.0,792.5 250.2,792.5 250.5,792.5 250.8,792.5 251.1,792.5 251.4,792.5 251.7,792.5 252.0,792.5 252.2,792.5 252.5,792.5 252.8,792.5 253.1,792.5 253.4,792.5 253.7,792.5 253.9,792.5 254.2,792.5 254.5,792.5 254.8,792.5 255.1,792.5 255.4,792.5 255.7,792.5 255.9,792.5 256.2,792.5 256.5,792.5 256.8,792.5 257.1,792.5 257.4,792.5 257.6,792.5 257.9,792.5 258.2,792.5 258.5,792.5 258.8,792.5 259.1,792.5 259.4,792.5 259.6,792.5 259.9,792.5 260.2,792.5 260.5,792.5 260.8,792.5 261.1,792.5 261.3,792.5 261.6,792.5 261.9,792.5 262.2,792.5 262.5,792.5 262.8,792.5 263.1,792.5 263.3,792.5 263.6,792.5 263.9,792.5 264.2,792.5 264.5,792.5 264.8,792.5 265.0,792.5 265.3,792.5 265.6,792.5 265.9,792.5 266.2,792.5 266.5,792.5 266.8,792.5 267.0,792.5 267.3,792.5 267.6,792.5 267.9,792.5 268.2,792.5 268.5,792.5 268.8,792.5 269.0,792.5 269.3,792.5 269.6,792.5 269.9,792.5 270.2,792.4 270.5,792.4 270.7,792.4 271.0,792.4 271.3,792.4 271.6,792.4 271.9,792.4 272.2,792.4 272.5,792.4 272.7,792.4 273.0,792.4 273.3,792.4 273.6,792.4 273.9,792.4 274.2,792.4 274.4,792.4 274.7,792.4 275.0,792.4 275.3,792.4 275.6,792.4 275.9,792.4 276.2,792.4 276.4,792.4 276.7,792.4 277.0,792.4 277.3,792.4 277.6,792.4 277.9,792.4 278.1,792.4 278.4,792.4 278.7,792.4 279.0,792.4 279.3,792.4 279.6,792.4 279.9,792.4 280.1,792.4 280.4,792.4 280.7,792.4 281.0,792.4 281.3,792.4 281.6,792.4 281.8,792.4 282.1,792.4 282.4,792.4 282.7,792.4 283.0,792.4 283.3,792.4 283.6,792.4 283.8,792.4 284.1,792.4 284.4,792.4 284.7,792.4 285.0,792.4 285.3,792.4 285.6,792.4 285.8,792.4 286.1,792.4 286.4,792.4 286.7,792.4 287.0,792.4 287.3,792.4 287.5,792.4 287.8,792.4 288.1,792.4 288.4,792.4 288.7,792.4 289.0,792.4 289.3,792.4 289.5,792.4 289.8,792.4 290.1,792.4 290.4,792.4 290.7,792.4 291.0,792.4 291.2,792.4 291.5,792.4 291.8,792.4 292.1,792.4 292.4,792.4 292.7,792.4 293.0,792.4 293.2,792.4 293.5,792.4 293.8,792.4 294.1,792.4 294.4,792.4 294.7,792.4 294.9,792.4 295.2,792.4 295.5,792.4 295.8,792.4 296.1,792.4 296.4,792.4 296.7,792.4 296.9,792.4 297.2,792.4 297.5,792.4 297.8,792.4 298.1,792.4 298.4,792.4 298.6,792.4 298.9,792.4 299.2,792.4 299.5,792.4 299.8,792.4 300.1,792.4 300.4,792.4 300.6,792.4 300.9,792.4 301.2,792.4 301.5,792.4 301.8,792.4 302.1,792.4 302.4,792.4 302.6,792.4 302.9,792.4 303.2,792.4 303.5,792.4 303.8,792.4 304.1,792.4 304.3,792.4 304.6,792.4 304.9,792.4 305.2,792.4 305.5,792.4 305.8,792.4 306.1,792.4 306.3,792.4 306.6,792.4 306.9,792.4 307.2,792.4 307.5,792.4 307.8,792.4 308.0,792.4 308.3,792.4 308.6,792.4 308.9,792.4"/>
<polyline fill="none" stroke="#000" stroke-width="1.4" stroke-linejoin="round"  points="81.1,742.9 82.1,744.9 83.2,732.7 84.2,740.4 85.2,742.8 86.2,734.1 87.3,741.8 88.3,733.6 89.3,740.8 90.3,741.5 91.4,737.3 92.4,743.0 93.4,742.3 94.4,741.0 95.5,736.2 96.5,743.5 97.5,734.2 98.5,745.0 99.6,737.7 100.6,743.8 101.6,735.3 102.6,742.2 103.7,740.2 104.7,737.0 105.7,744.4 106.7,733.0 107.8,741.0 107.9,735.4 108.8,741.2 109.6,743.8 109.8,745.6 110.8,754.7 111.3,759.2 111.9,762.8 112.9,768.7 113.0,768.0 113.9,769.4 114.9,765.8 116.0,769.6 116.4,766.7 117.0,770.1 118.0,763.2 119.0,769.2 120.1,766.8 121.1,769.5 122.1,763.8 123.1,767.0 124.2,766.0 125.2,769.2 126.2,764.6 126.7,770.7 127.2,765.5 128.3,767.1 129.3,769.1 130.3,772.1 131.3,764.5 132.4,766.8 133.4,770.3 134.4,766.6 135.4,767.0 136.5,768.8 137.5,768.2 137.5,768.6 137.8,780.2 138.2,796.8 138.5,787.8 139.5,738.0 140.0,710.7 140.6,681.1 141.6,632.0 141.7,632.0 142.6,630.7 143.2,631.0 143.6,631.8 144.2,634.7 144.7,641.3 145.3,640.5 145.7,649.7 146.7,658.3 146.9,652.3 147.7,668.3 148.8,666.0 148.9,673.7 149.8,667.7 150.8,669.2 151.1,682.9 151.8,678.8 152.9,692.9 153.4,682.3 153.9,693.4 154.9,699.1 155.7,703.1 155.9,704.0 157.0,690.4 158.0,707.0 158.6,711.0 159.0,696.8 160.0,707.7 161.1,710.5 161.4,704.3 162.1,713.3 163.1,714.4 164.1,715.8 164.2,703.5 165.2,724.1 166.2,725.0 167.2,713.3 167.7,724.6 168.2,708.7 169.3,724.0 170.3,724.7 171.3,729.9 172.3,726.6 173.2,715.0 173.4,728.8 174.4,719.1 175.4,725.6 176.4,717.8 177.5,727.0 178.5,720.9 179.5,728.9 180.5,723.3 181.6,732.5 182.6,722.5 183.6,734.3 184.6,720.5 185.7,737.7 186.7,726.4 187.6,733.9 187.7,727.1 188.7,733.4 189.8,729.2 190.8,737.1 191.8,736.4 192.8,736.7 193.9,739.0 194.9,742.8 195.9,733.5 196.9,741.7 198.0,734.1 199.0,731.2 200.0,739.9 201.0,736.3 201.8,737.0 202.1,743.0 203.1,743.0 204.1,738.0 205.1,742.2 206.2,735.8 207.2,733.2 208.2,746.6 209.2,739.5 210.3,750.4 211.3,739.1 212.3,747.3 213.3,739.9 214.4,746.1 215.4,738.0 216.4,751.6 217.4,743.8 218.5,748.4 219.5,738.3 220.5,748.3 221.5,743.3 222.6,751.7 223.6,745.8 224.6,752.2 225.6,745.8 226.7,747.5 227.7,755.3 228.7,757.3 229.7,747.6 230.7,752.2 230.8,746.8 231.8,752.3 232.8,747.5 233.8,754.4 234.9,750.2 235.9,755.8 236.9,750.4 237.9,757.4 239.0,755.0 240.0,746.9 241.0,749.0 242.0,752.6 243.1,761.5 244.1,749.9 245.1,760.2 246.1,762.2 247.2,753.5 248.2,756.8 249.2,751.1 250.2,762.2 251.3,759.2 252.3,754.0 253.3,761.1 254.3,759.2 255.4,752.2 256.4,758.6 257.4,758.9 258.4,751.8 259.4,760.5 259.5,754.4 260.5,761.7 261.5,752.3 262.5,761.7 263.6,763.5 264.6,763.8 265.6,752.6 266.6,752.1 267.7,752.2 268.7,762.9 269.7,754.2 270.7,764.9 271.8,761.4 272.8,761.3 273.8,757.1 274.0,763.7 274.8,753.4 275.9,761.3 276.9,753.8 277.9,762.6 278.9,758.2 280.0,763.8 281.0,757.9 282.0,763.2 283.0,753.0 284.1,754.3 285.1,763.1 286.1,757.9 287.1,758.3 288.2,755.7 288.4,763.6 289.2,762.0 290.2,757.4 291.2,764.6 292.3,756.4 293.3,765.7 294.3,762.5 295.3,758.8 296.4,764.7 297.4,758.1 298.4,767.5 299.4,765.7 300.5,764.1 301.5,756.7 302.5,768.1 303.5,755.9 304.6,766.8 305.5,758.2 305.6,768.8 306.6,756.9 307.6,765.0 308.7,760.1 308.9,764.2"/>
<polyline fill="none" stroke="#f00" stroke-width="1.4" stroke-linejoin="round"  points="81.1,742.2 82.1,734.1 83.2,740.7 84.2,736.6 85.2,743.1 86.2,737.5 87.3,741.5 88.3,735.6 89.3,742.1 90.3,733.3 91.4,740.7 92.4,734.4 93.4,742.6 94.4,744.4 95.5,737.2 96.5,744.8 97.5,737.6 98.5,743.2 99.6,741.7 100.6,736.5 101.6,742.0 102.6,741.5 103.7,737.6 104.7,736.2 105.7,741.1 106.7,735.5 107.8,744.5 107.9,737.1 108.8,742.0 109.0,744.2 109.8,762.1 110.1,769.9 110.7,774.8 110.8,774.6 111.9,772.5 111.9,771.7 112.9,772.1 113.9,774.8 114.9,772.5 115.3,768.3 116.0,774.4 117.0,769.1 118.0,775.7 119.0,769.9 120.1,774.2 121.1,770.4 122.1,772.1 123.1,766.8 124.2,770.0 125.2,772.5 126.2,773.9 126.7,768.1 127.2,773.5 128.3,768.3 129.3,769.8 130.3,768.8 131.3,774.9 132.4,773.2 133.4,766.8 134.4,773.3 135.4,768.8 136.5,771.7 137.5,771.6 137.5,771.1 137.8,782.9 138.1,790.9 138.5,788.4 139.5,740.8 140.0,710.6 140.6,681.5 141.6,633.5 141.7,632.8 142.6,633.1 143.2,632.6 143.6,634.2 144.2,635.4 144.7,642.4 145.3,636.1 145.7,647.1 146.7,648.0 146.9,655.4 147.7,652.1 148.8,660.1 148.9,667.4 149.8,658.4 150.8,678.1 151.1,682.8 151.8,681.2 152.9,679.9 153.4,688.8 153.9,684.1 154.9,699.1 155.7,688.8 155.9,702.1 157.0,686.4 158.0,702.7 158.6,697.9 159.0,705.7 160.0,701.4 161.1,704.0 161.4,713.7 162.1,706.2 163.1,714.9 164.1,711.1 164.2,716.7 165.2,706.4 166.2,721.0 167.2,710.2 167.7,728.0 168.2,716.6 169.3,715.1 170.3,716.3 171.3,724.3 172.3,719.4 173.2,728.4 173.4,718.7 174.4,726.9 175.4,720.0 176.4,729.5 177.5,730.5 178.5,719.2 179.5,735.0 180.5,731.9 181.6,732.7 182.6,725.0 183.6,736.7 184.6,730.3 185.7,729.4 186.7,729.6 187.6,735.4 187.7,729.6 188.7,737.1 189.8,730.4 190.8,739.0 191.8,733.2 192.8,745.4 193.9,734.1 194.9,740.4 195.9,735.1 196.9,735.0 198.0,743.0 199.0,736.7 200.0,745.3 201.0,735.2 201.8,744.0 202.1,736.1 203.1,751.1 204.1,749.0 205.1,739.1 206.2,738.5 207.2,746.7 208.2,737.9 209.2,748.9 210.3,743.4 211.3,753.8 212.3,743.4 213.3,745.7 214.4,750.6 215.4,746.1 216.4,753.6 217.4,747.6 218.5,745.1 219.5,747.1 220.5,746.5 221.5,756.5 222.6,750.1 223.6,755.9 224.6,749.3 225.6,759.9 226.7,746.2 227.7,758.2 228.7,749.9 229.7,750.5 230.7,760.7 230.8,747.9 231.8,752.5 232.8,758.4 233.8,753.0 234.9,758.3 235.9,755.1 236.9,758.9 237.9,750.9 239.0,765.3 240.0,755.8 241.0,763.2 242.0,752.4 243.1,763.9 244.1,763.0 245.1,758.9 246.1,757.8 247.2,765.1 248.2,758.5 249.2,765.0 250.2,758.6 251.3,763.5 252.3,754.9 253.3,760.6 254.3,767.3 255.4,757.8 256.4,768.0 257.4,765.3 258.4,755.9 259.4,765.8 259.5,764.0 260.5,758.2 261.5,758.8 262.5,766.5 263.6,759.8 264.6,766.8 265.6,761.9 266.6,770.4 267.7,757.5 268.7,760.2 269.7,766.3 270.7,759.6 271.8,766.0 272.8,763.0 273.8,760.8 274.0,765.8 274.8,766.2 275.9,758.1 276.9,766.7 277.9,760.0 278.9,770.4 280.0,763.5 281.0,760.6 282.0,772.3 283.0,764.1 284.1,769.5 285.1,772.6 286.1,761.2 287.1,761.6 288.2,768.1 288.4,761.6 289.2,768.5 290.2,763.4 291.2,769.7 292.3,763.9 293.3,768.5 294.3,763.3 295.3,768.0 296.4,761.5 297.4,769.0 298.4,763.7 299.4,768.6 300.5,761.9 301.5,770.5 302.5,770.4 303.5,765.9 304.6,771.5 305.5,773.8 305.6,766.2 306.6,770.4 307.6,766.6 308.7,771.8 308.9,767.7"/>
<polyline fill="none" stroke="#000" stroke-width="1.4" stroke-linejoin="round"  points="141.6,632.0 141.7,632.0 142.6,630.7 143.2,631.0 143.6,631.8 144.2,634.7 144.7,641.3 145.3,640.5 145.7,649.7 146.7,658.3 146.9,652.3 147.7,668.3 148.8,666.0 148.9,673.7 149.8,667.7 150.8,669.2 151.1,682.9 151.8,678.8 152.9,692.9 153.4,682.3 153.9,693.4 154.9,699.1 155.7,703.1 155.9,704.0 157.0,690.4 158.0,707.0 158.6,711.0 159.0,696.8 160.0,707.7 161.1,710.5 161.4,704.3 162.1,713.3 163.1,714.4 164.1,715.8 164.2,703.5 165.2,724.1 166.2,725.0 167.2,713.3 167.7,724.6 168.2,708.7 169.3,724.0 170.3,724.7 171.3,729.9 172.3,726.6 173.2,715.0 173.4,728.8 174.4,719.1 175.4,725.6 176.4,717.8 177.5,727.0 178.5,720.9 179.5,728.9 180.5,723.3 181.6,732.5 182.6,722.5 183.6,734.3 184.6,720.5 185.7,737.7 186.7,726.4 187.6,733.9 187.7,727.1 188.7,733.4 189.8,729.2 190.8,737.1 191.8,736.4 192.8,736.7 193.9,739.0 194.9,742.8 195.9,733.5 196.9,741.7 198.0,734.1 199.0,731.2 200.0,739.9 201.0,736.3 201.8,737.0 202.1,743.0 203.1,743.0 204.1,738.0 205.1,742.2 206.2,735.8 207.2,733.2 208.2,746.6 209.2,739.5 210.3,750.4 211.3,739.1 212.3,747.3 213.3,739.9 214.4,746.1 215.4,738.0 216.4,751.6 217.4,743.8 218.5,748.4 219.5,738.3 220.5,748.3 221.5,743.3 222.6,751.7 223.6,745.8 224.6,752.2 225.6,745.8 226.7,747.5 227.7,755.3 228.7,757.3 229.7,747.6 230.7,752.2 230.8,746.8 231.8,752.3 232.8,747.5 233.8,754.4 234.9,750.2 235.9,755.8 236.9,750.4 237.9,757.4 239.0,755.0 240.0,746.9 241.0,749.0 242.0,752.6 243.1,761.5 244.1,749.9 245.1,760.2 246.1,762.2 247.2,753.5 248.2,756.8 249.2,751.1 250.2,762.2 251.3,759.2 252.3,754.0 253.3,761.1 254.3,759.2 255.4,752.2 256.4,758.6 257.4,758.9 258.4,751.8 259.4,760.5 259.5,754.4 260.5,761.7 261.5,752.3 262.5,761.7 263.6,763.5 264.6,763.8 265.6,752.6 266.6,752.1 267.7,752.2 268.7,762.9 269.7,754.2 270.7,764.9 271.8,761.4 272.8,761.3 273.8,757.1 274.0,763.7 274.8,753.4 275.9,761.3 276.9,753.8 277.9,762.6 278.9,758.2 280.0,763.8 281.0,757.9 282.0,763.2 283.0,753.0 284.1,754.3 285.1,763.1 286.1,757.9 287.1,758.3 288.2,755.7 288.4,763.6 289.2,762.0 290.2,757.4 291.2,764.6 292.3,756.4 293.3,765.7 294.3,762.5 295.3,758.8 296.4,764.7 297.4,758.1 298.4,767.5 299.4,765.7 300.5,764.1 301.5,756.7 302.5,768.1 303.5,755.9 304.6,766.8 305.5,758.2 305.6,768.8 306.6,756.9 307.6,765.0 308.7,760.1 308.9,764.2"/>
<polyline fill="none" stroke="#000" stroke-width="1.4" stroke-linejoin="round"  points="81.1,742.9 82.1,744.9 83.2,732.7 84.2,740.4 85.2,742.8 86.2,734.1 87.3,741.8 88.3,733.6 89.3,740.8 90.3,741.5 91.4,737.3 92.4,743.0 93.4,742.3 94.4,741.0 95.5,736.2 96.5,743.5 97.5,734.2 98.5,745.0 99.6,737.7 100.6,743.8 101.6,735.3 102.6,742.2 103.7,740.2 104.7,737.0 105.7,744.4 106.7,733.0 107.8,741.0 107.9,735.4 108.8,741.2 109.6,743.8 109.8,745.6 110.8,754.7 111.3,759.2 111.9,762.8 112.9,768.7 113.0,768.0 113.9,769.4 114.9,765.8 116.0,769.6 116.4,766.7 117.0,770.1 118.0,763.2 119.0,769.2 120.1,766.8 121.1,769.5 122.1,763.8 123.1,767.0 124.2,766.0 125.2,769.2 126.2,764.6 126.7,770.7 127.2,765.5 128.3,767.1 129.3,769.1 130.3,772.1 131.3,764.5 132.4,766.8 133.4,770.3 134.4,766.6 135.4,767.0 136.5,768.8 137.5,768.2 137.5,768.6"/>
<line x1="81.1" y1="599.4" x2="81.1" y2="803.0" stroke="#000" stroke-width="2.4" stroke-linecap="butt"/>
<line x1="77.6" y1="600.6" x2="81.1" y2="600.6" stroke="#000" stroke-width="2.4" stroke-linecap="butt"/>
<text x="74.3" y="607.8000000000001" font-size="19.1" text-anchor="end" font-weight="normal" >250</text>
<line x1="77.6" y1="637.38" x2="81.1" y2="637.38" stroke="#000" stroke-width="2.4" stroke-linecap="butt"/>
<text x="74.3" y="644.58" font-size="19.1" text-anchor="end" font-weight="normal" >200</text>
<line x1="77.6" y1="674.1600000000001" x2="81.1" y2="674.1600000000001" stroke="#000" stroke-width="2.4" stroke-linecap="butt"/>
<text x="74.3" y="681.3600000000001" font-size="19.1" text-anchor="end" font-weight="normal" >150</text>
<line x1="77.6" y1="710.94" x2="81.1" y2="710.94" stroke="#000" stroke-width="2.4" stroke-linecap="butt"/>
<text x="74.3" y="718.1400000000001" font-size="19.1" text-anchor="end" font-weight="normal" >100</text>
<line x1="77.6" y1="747.72" x2="81.1" y2="747.72" stroke="#000" stroke-width="2.4" stroke-linecap="butt"/>
<text x="74.3" y="754.9200000000001" font-size="19.1" text-anchor="end" font-weight="normal" >50</text>
<line x1="77.6" y1="784.5" x2="81.1" y2="784.5" stroke="#000" stroke-width="2.4" stroke-linecap="butt"/>
<text x="74.3" y="791.7" font-size="19.1" text-anchor="end" font-weight="normal" >0</text>
<line x1="79.89999999999999" y1="799.9" x2="310.09999999999997" y2="799.9" stroke="#000" stroke-width="2.4" stroke-linecap="butt"/>
<line x1="81.1" y1="799.9" x2="81.1" y2="803.2" stroke="#000" stroke-width="2.4" stroke-linecap="butt"/>
<text x="81.1" y="820.6" font-size="19.1" text-anchor="middle" font-weight="normal" >0</text>
<line x1="138.05" y1="799.9" x2="138.05" y2="803.2" stroke="#000" stroke-width="2.4" stroke-linecap="butt"/>
<text x="138.05" y="820.6" font-size="19.1" text-anchor="middle" font-weight="normal" >1</text>
<line x1="195.0" y1="799.9" x2="195.0" y2="803.2" stroke="#000" stroke-width="2.4" stroke-linecap="butt"/>
<text x="195.0" y="820.6" font-size="19.1" text-anchor="middle" font-weight="normal" >2</text>
<line x1="251.95000000000002" y1="799.9" x2="251.95000000000002" y2="803.2" stroke="#000" stroke-width="2.4" stroke-linecap="butt"/>
<text x="251.95000000000002" y="820.6" font-size="19.1" text-anchor="middle" font-weight="normal" >3</text>
<line x1="308.9" y1="799.9" x2="308.9" y2="803.2" stroke="#000" stroke-width="2.4" stroke-linecap="butt"/>
<text x="308.9" y="820.6" font-size="19.1" text-anchor="middle" font-weight="normal" >4</text>
<line x1="308.9" y1="599.7" x2="308.9" y2="801.1" stroke="#000" stroke-width="2.4" stroke-linecap="butt"/>
<line x1="308.9" y1="784.9" x2="312.4" y2="784.9" stroke="#000" stroke-width="2.4" stroke-linecap="butt"/>
<text x="315.0" y="792.1" font-size="19.1" text-anchor="start" font-weight="normal" >0</text>
<line x1="308.9" y1="734.17" x2="312.4" y2="734.17" stroke="#000" stroke-width="2.4" stroke-linecap="butt"/>
<text x="315.0" y="741.37" font-size="19.1" text-anchor="start" font-weight="normal" >25</text>
<line x1="308.9" y1="683.4399999999999" x2="312.4" y2="683.4399999999999" stroke="#000" stroke-width="2.4" stroke-linecap="butt"/>
<text x="315.0" y="690.64" font-size="19.1" text-anchor="start" font-weight="normal" >50</text>
<line x1="308.9" y1="632.71" x2="312.4" y2="632.71" stroke="#000" stroke-width="2.4" stroke-linecap="butt"/>
<text x="315.0" y="639.9100000000001" font-size="19.1" text-anchor="start" font-weight="normal" >75</text>
<text transform="translate(23.8,758.3) rotate(-90)" font-size="19.9">[Ca<tspan font-size="14.725999999999999" dy="-11.3">2+</tspan><tspan dy="11.3">]</tspan><tspan font-size="14.725999999999999" dy="2.4">cyt</tspan><tspan dy="-2.4"> (nM)</tspan></text>
<text transform="translate(347.6,627.6) rotate(90)" font-size="20">Aggregation (%)</text>
<text x="195.0" y="841.8" font-size="20" text-anchor="middle" font-weight="normal" >Time (min)</text>
<text x="87.0" y="602.3" font-size="13" text-anchor="start" font-weight="normal" >[Citalopram] (<tspan font-family="Liberation Serif">μ</tspan>M)</text>
<line x1="89.5" y1="613.6" x2="107.6" y2="613.6" stroke="#c8282c" stroke-width="1.6" stroke-linecap="butt"/>
<text x="111.8" y="618.6" font-size="13" text-anchor="start" font-weight="normal" >200</text>
<line x1="89.5" y1="624.8" x2="107.6" y2="624.8" stroke="#000" stroke-width="1.5" stroke-linecap="butt"/>
<text x="111.8" y="629.6" font-size="13" text-anchor="start" font-weight="normal" >0</text>
<path d="M172.3,776.2 L142,787.4" stroke="#000" stroke-width="2.5" stroke-linecap="round" fill="none"/>
<path d="M147.6,779.2 L139.2,788.4 L146.4,788.9 Z" stroke="#000" stroke-width="1.6" fill="#000" stroke-linejoin="round"/>
<text x="182.0" y="783.2" font-size="20" text-anchor="start" font-weight="normal" >U46619</text>
</svg>
</body></html>
